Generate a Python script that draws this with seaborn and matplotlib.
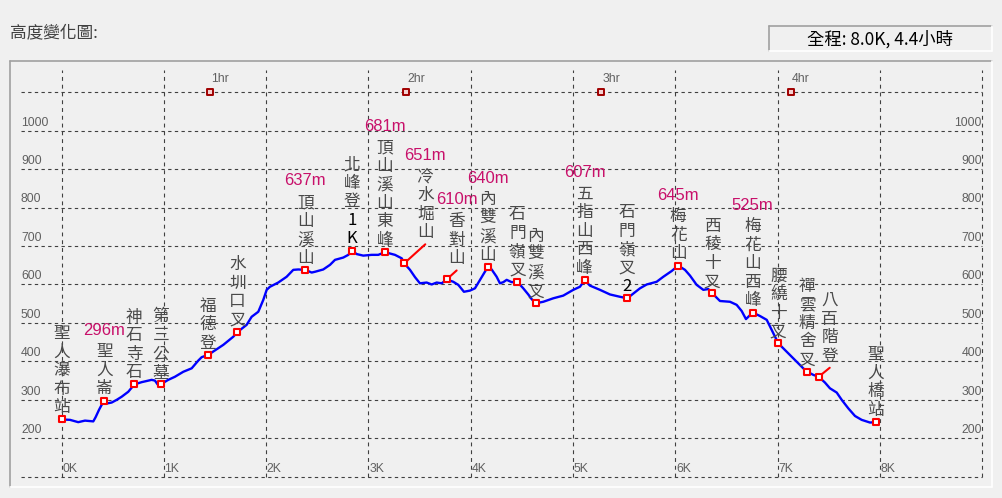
import matplotlib
matplotlib.use("Agg")
import matplotlib.pyplot as plt
import seaborn as sns
import pandas as pd
from matplotlib.lines import Line2D
from matplotlib.patches import Rectangle

# ---------------- data ----------------
dist_km = [0.0, 0.082, 0.163, 0.229, 0.310, 0.333, 0.366, 0.392, 0.417, 0.451, 0.490, 0.539,
           0.587, 0.652, 0.711, 0.783, 0.881, 0.913, 0.939, 0.972, 1.043, 1.108, 1.190, 1.272,
           1.336, 1.370, 1.434, 1.581, 1.678, 1.718, 1.809, 1.858, 1.923, 1.972, 2.005, 2.037,
           2.118, 2.200, 2.265, 2.314, 2.382, 2.445, 2.477, 2.558, 2.624, 2.673, 2.754, 2.803,
           2.836, 2.885, 2.949, 3.031, 3.096, 3.161, 3.259, 3.325, 3.350, 3.406, 3.455, 3.503,
           3.569, 3.618, 3.667, 3.716, 3.764, 3.829, 3.878, 3.933, 3.992, 4.041, 4.090, 4.129,
           4.165, 4.204, 4.253, 4.285, 4.318, 4.351, 4.400, 4.455, 4.513, 4.562, 4.595, 4.634,
           4.709, 4.806, 4.904, 5.002, 5.067, 5.113, 5.165, 5.263, 5.361, 5.458, 5.530, 5.573,
           5.654, 5.720, 5.817, 5.882, 5.964, 6.028, 6.094, 6.143, 6.208, 6.273, 6.322, 6.361,
           6.436, 6.534, 6.599, 6.648, 6.690, 6.713, 6.756, 6.827, 6.893, 6.941, 6.974, 7.006,
           7.055, 7.120, 7.201, 7.250, 7.289, 7.348, 7.401, 7.462, 7.511, 7.577, 7.626, 7.690,
           7.756, 7.821, 7.902, 7.960]
elev_m = [249, 248, 242, 246, 244, 255, 274, 287, 298, 291, 293, 300,
          308, 321, 340, 346, 352, 350, 340, 341, 352, 360, 373, 382,
          402, 411, 417, 443, 464, 476, 495, 516, 529, 560, 586, 594,
          605, 620, 638, 639, 638, 631, 633, 639, 651, 664, 670, 677,
          688, 679, 675, 677, 677, 684, 677, 668, 655, 638, 619, 603,
          605, 600, 605, 603, 613, 607, 599, 581, 584, 590, 612, 629,
          645, 639, 620, 603, 606, 612, 606, 607, 590, 574, 562, 551,
          555, 564, 571, 586, 594, 611, 597, 586, 574, 568, 564, 573,
          590, 600, 607, 620, 635, 649, 638, 623, 599, 586, 588, 577,
          557, 555, 547, 531, 510, 516, 527, 518, 508, 482, 464, 447,
          434, 417, 395, 382, 373, 365, 360, 345, 330, 319, 300, 278,
          258, 248, 241, 242]

wp_names = ["聖人瀑布站", "聖人崙", "神石寺石", "第三公墓", "福德登", "水圳口叉", "頂山溪山",
            "北峰登1K", "頂山溪山東峰", "冷水堀山", "香對山", "內雙溪山", "石門嶺叉", "內雙溪叉",
            "五指山西峰", "石門嶺叉2", "梅花山", "西稜十叉", "梅花山西峰", "腰繞十叉",
            "禪雲精舍叉", "八百階登", "聖人橋站"]
wp_km = [0.0, 0.417, 0.711, 0.972, 1.434, 1.718, 2.382, 2.836, 3.161, 3.350, 3.764, 4.165,
         4.455, 4.634, 5.113, 5.530, 6.028, 6.361, 6.756, 7.006, 7.289, 7.401, 7.960]
wp_elev = [249, 298, 340, 341, 417, 476, 638, 688, 684, 655, 613, 645,
           607, 551, 611, 564, 649, 577, 527, 447, 373, 360, 242]
wp_elev_labels = ["", "296m", "", "", "", "", "637m", "", "681m", "651m", "610m", "640m",
                  "", "", "607m", "", "645m", "", "525m", "", "", "", ""]

hour_labels = ["1hr", "2hr", "3hr", "4hr"]
hour_km = [1.451, 3.363, 5.277, 7.128]
km_ticks = [0, 1, 2, 3, 4, 5, 6, 7, 8, 9]
km_tick_labels = ["0K", "1K", "2K", "3K", "4K", "5K", "6K", "7K", "8K"]
elev_ticks = [200, 300, 400, 500, 600, 700, 800, 900, 1000]
grid_levels = [100, 200, 300, 400, 500, 600, 700, 800, 900, 1000, 1100]
hour_level = 1100
title_text = "高度變化圖:"
summary_text = "全程: 8.0K, 4.4小時"

# ---------------- layout / style ----------------
W, H = 1003, 498
BG = "#f0f0f0"
leader_px = {"冷水堀山": (21, 19), "香對山": (10, 9), "八百階登": (11, 9)}
PT = 0.72  # points per pixel at dpi 100
GAP, PITCH, GLYPH, ELEV_GAP = 4.0, 18.5, 15.5, 14.0

sns.set_theme(style="white")
plt.rcParams["font.family"] = ["Noto Sans CJK TC", "DejaVu Sans"]

fig = plt.figure(figsize=(W / 100, H / 100), dpi=100, facecolor=BG)

# axes occupying the framed plot area
fl, fr, ft, fb = 10, 992, 60.7, 487
ax = fig.add_axes([fl / W, (H - fb) / H, (fr - fl) / W, (fb - ft) / H])
ax.set_facecolor(BG)
ax.set_xlim(-0.504, 9.095)
ax.set_ylim(73.4, 1181.8)
ax.set_xticks([])
ax.set_yticks([])
for s in ax.spines.values():
    s.set_visible(False)

# frame (sunken look)
fig.add_artist(Line2D([fl / W, fr / W], [1 - ft / H, 1 - ft / H], color="#a0a0a0", lw=1.2))
fig.add_artist(Line2D([fl / W, fl / W], [1 - ft / H, 1 - fb / H], color="#a0a0a0", lw=1.2))
fig.add_artist(Line2D([fl / W, fr / W], [1 - fb / H, 1 - fb / H], color="white", lw=1.2))
fig.add_artist(Line2D([fr / W, fr / W], [1 - ft / H, 1 - fb / H], color="white", lw=1.2))

# grid
gx0, gx1 = -0.397, 8.995
ax.hlines(grid_levels, gx0, gx1, colors="#404040", linestyles=(0, (3, 3)), lw=0.8, zorder=1)
ax.vlines(km_ticks, 100, 1157, colors="#404040", linestyles=(0, (3.5, 3.5)), lw=0.8, zorder=1)

num_font = dict(family=["Liberation Sans", "DejaVu Sans"], fontsize=8.8, color="#606060")
for v in elev_ticks:
    ax.annotate(str(v), (gx0, v), xytext=(0, 1.5), textcoords="offset points",
                ha="left", va="bottom", **num_font)
    ax.annotate(str(v), (gx1, v), xytext=(0, 1.5), textcoords="offset points",
                ha="right", va="bottom", **num_font)
for k, lab in zip(km_ticks, km_tick_labels):
    ax.annotate(lab, (k, 100), xytext=(0.5, 1.5), textcoords="offset points",
                ha="left", va="bottom", **num_font)

# hour markers
sns.scatterplot(x=hour_km, y=[hour_level] * len(hour_km), marker="s", s=16,
                color="#f4d0d0", edgecolor="#a00000", linewidth=1.4, ax=ax, zorder=4)
for hk, hl in zip(hour_km, hour_labels):
    ax.annotate(hl, (hk, hour_level), xytext=(1, 5), textcoords="offset points",
                ha="left", va="bottom", **num_font)

# profile line
df = pd.DataFrame({"km": dist_km, "elev": elev_m})
sns.lineplot(data=df, x="km", y="elev", sort=False, estimator=None, color="#0000ff",
             linewidth=1.7, ax=ax, zorder=3)

# waypoints
wdf = pd.DataFrame({"km": wp_km, "elev": wp_elev})
sns.scatterplot(data=wdf, x="km", y="elev", marker="s", s=16, color="white",
                edgecolor="#ff0000", linewidth=1.5, ax=ax, zorder=6)
ax.set_xlabel("")
ax.set_ylabel("")

name_color = "#4a4a4a"
for name, k, e, el in zip(wp_names, wp_km, wp_elev, wp_elev_labels):
    dx, dy = leader_px.get(name, (0, 0))
    if dx or dy:
        ax.annotate("", xy=(k, e), xytext=(dx * PT, dy * PT), textcoords="offset points",
                    arrowprops=dict(arrowstyle="-", color="#ff0000", lw=1.5,
                                    shrinkA=0, shrinkB=0), zorder=5)
    n = len(name)
    for i, ch in enumerate(name):
        kb = n - 1 - i
        yoff = dy + GAP + GLYPH / 2 + kb * PITCH
        col = "#000000" if ch.isascii() else name_color
        ax.annotate(ch, (k, e), xytext=(dx * PT, yoff * PT), textcoords="offset points",
                    ha="center", va="center", fontsize=12, color=col, zorder=7)
    if el:
        yoff = dy + GAP + (n - 1) * PITCH + GLYPH + ELEV_GAP
        ax.annotate(el, (k, e), xytext=(dx * PT, yoff * PT), textcoords="offset points",
                    ha="center", va="center", fontsize=12, color="#c8106a",
                    family=["Liberation Sans", "DejaVu Sans"], zorder=7)

# header texts
fig.text(10 / W, 1 - 33 / H, title_text, ha="left", va="center", fontsize=12, color="#404040")
bx0, bx1, by0, by1 = 769, 992, 26, 51
fig.add_artist(Rectangle((bx0 / W, 1 - by1 / H), (bx1 - bx0) / W, (by1 - by0) / H,
                         facecolor=BG, edgecolor="none"))
fig.add_artist(Line2D([bx0 / W, bx1 / W], [1 - by0 / H, 1 - by0 / H], color="#a0a0a0", lw=1.2))
fig.add_artist(Line2D([bx0 / W, bx0 / W], [1 - by0 / H, 1 - by1 / H], color="#a0a0a0", lw=1.2))
fig.add_artist(Line2D([bx0 / W, bx1 / W], [1 - by1 / H, 1 - by1 / H], color="white", lw=1.2))
fig.add_artist(Line2D([bx1 / W, bx1 / W], [1 - by0 / H, 1 - by1 / H], color="white", lw=1.2))
fig.text(880 / W, 1 - 39 / H, summary_text, ha="center", va="center", fontsize=12.5, color="#000000")

fig.savefig("out.png", dpi=100, facecolor=BG)
